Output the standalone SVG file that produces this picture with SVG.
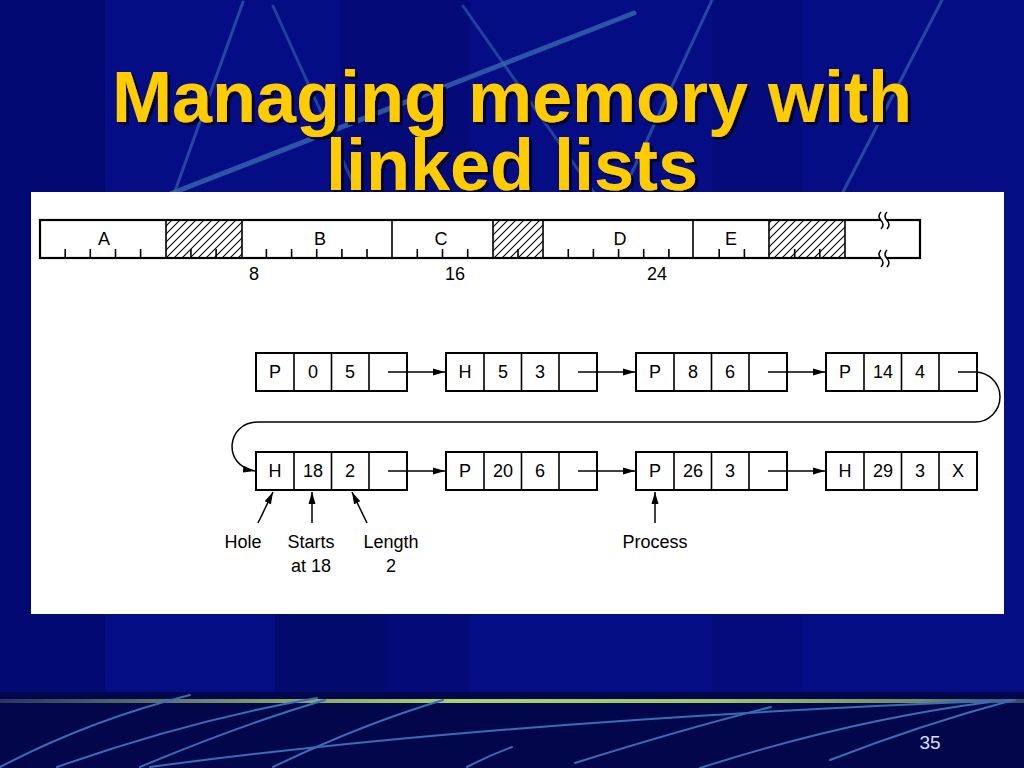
<svg xmlns="http://www.w3.org/2000/svg" width="1024" height="768" viewBox="0 0 1024 768">
  <defs>
    <style>
      .title { font-family: "Liberation Sans", Arial, sans-serif; font-weight: bold; font-size: 72px; text-anchor: middle; fill: #FFCC00; }
      .lbl { font-family: "Liberation Sans", Arial, sans-serif; font-size: 18px; fill: #000; text-anchor: middle; }
      .box { fill: #fff; stroke: #000; stroke-width: 2; }
      .div { stroke: #000; stroke-width: 1.6; fill: none; }
      .conn { stroke: #000; stroke-width: 1.5; fill: none; }
      .deco { stroke: #3A6DB5; fill: none; stroke-linecap: round; }
    </style>
    <filter id="shadow" x="-5%" y="-20%" width="110%" height="140%">
      <feDropShadow dx="3" dy="3" stdDeviation="0.5" flood-color="#000028" flood-opacity="0.9"/>
    </filter>
    <pattern id="hatch" patternUnits="userSpaceOnUse" width="8" height="8">
      <path d="M0,8 L8,0 M-1,1 L1,-1 M7,9 L9,7" stroke="#000" stroke-width="1.1"/>
    </pattern>
    <marker id="arr" viewBox="0 0 12 8" refX="12" refY="4" markerWidth="12" markerHeight="8" markerUnits="userSpaceOnUse" orient="auto">
      <path d="M0,0.5 L12,4 L0,7.5 z" fill="#000"/>
    </marker>
    <linearGradient id="bar" x1="0" y1="0" x2="1" y2="0">
      <stop offset="0" stop-color="#2A3560"/>
      <stop offset="0.25" stop-color="#7E9A6A"/>
      <stop offset="0.45" stop-color="#A8D468"/>
      <stop offset="0.7" stop-color="#9CC868"/>
      <stop offset="0.9" stop-color="#6E8A68"/>
      <stop offset="1" stop-color="#3A4A60"/>
    </linearGradient>
  </defs>

  <!-- background -->
  <g id="background">
    <rect x="0" y="0" width="1024" height="768" fill="#050D84"/>
    <rect x="0" y="0" width="105" height="692" fill="#03096C" opacity="0.7"/>
    <rect x="340" y="0" width="130" height="692" fill="#030A72" opacity="0.6"/>
    <rect x="712" y="0" width="90" height="692" fill="#030A72" opacity="0.5"/>
    <rect x="275" y="614" width="110" height="78" fill="#030A6E"/>
    <rect x="0" y="692" width="1024" height="76" fill="#02074C"/>
    <path class="deco" stroke-width="5" opacity="0.75" d="M170,194 L634,13"/>
    <path class="deco" stroke-width="3" opacity="0.6" d="M243,2 L174,194"/>
    <path class="deco" stroke-width="3" opacity="0.55" d="M273,6 L358,194"/>
    <path class="deco" stroke-width="3" opacity="0.55" d="M463,6 L595,194"/>
    <path class="deco" stroke-width="3" opacity="0.6" d="M712,0 L622,194"/>
    <path class="deco" stroke-width="3" opacity="0.6" d="M942,0 L842,194"/>
    <rect x="0" y="699" width="1024" height="4" fill="url(#bar)"/>
    <path class="deco" stroke-width="2" d="M0,767 Q90,720 190,695"/>
    <path class="deco" stroke-width="2" d="M57,767 Q190,720 317,698"/>
    <path class="deco" stroke-width="2" d="M140,767 Q240,725 325,700"/>
    <path class="deco" stroke-width="2" d="M150,767 Q500,720 1015,700"/>
    <path class="deco" stroke-width="2" d="M273,767 Q360,725 443,700"/>
    <path class="deco" stroke-width="2" d="M467,767 Q490,755 512,747"/>
    <path class="deco" stroke-width="2" d="M575,763 Q680,730 771,707"/>
    <path class="deco" stroke-width="2" d="M830,760 Q920,725 1013,700"/>
    <path class="deco" stroke-width="2" d="M700,768 Q850,720 990,702"/>
  </g>

  <!-- title -->
  <g id="title" filter="url(#shadow)">
    <text class="title" x="512" y="122">Managing memory with</text>
    <text class="title" x="512" y="190">linked lists</text>
  </g>

  <!-- white panel -->
  <rect x="31" y="192" width="973" height="422" fill="#fff"/>

  <!-- memory bar -->
  <g id="memory">
    <rect x="166" y="220" width="76" height="38" fill="url(#hatch)"/>
    <rect x="493" y="220" width="50" height="38" fill="url(#hatch)"/>
    <rect x="769" y="220" width="76" height="38" fill="url(#hatch)"/>
    <path class="div" d="M65.2 249V258 M90.3 249V258 M115.5 249V258 M140.6 249V258 M190.9 249V258 M216.1 249V258 M266.4 249V258 M291.6 249V258 M316.7 249V258 M341.9 249V258 M367 249V258 M417.3 249V258 M442.5 249V258 M467.7 249V258 M518 249V258 M568.3 249V258 M593.4 249V258 M618.6 249V258 M643.7 249V258 M668.9 249V258 M719.2 249V258 M744.4 249V258 M794.7 249V258 M819.8 249V258"/>
    <rect x="40" y="220" width="880" height="38" fill="none" stroke="#000" stroke-width="2.2"/>
    <path class="div" stroke-width="2" d="M166 220V258 M242 220V258 M392 220V258 M493 220V258 M543 220V258 M693 220V258 M769 220V258 M845 220V258"/>
    <rect x="881" y="217" width="6" height="6" fill="#fff"/>
    <rect x="881" y="255" width="6" height="6" fill="#fff"/>
    <path class="conn" d="M881,212 q-4,4.25 0,8.5 t0,8.5 M887,212 q-4,4.25 0,8.5 t0,8.5 M881,250 q-4,4.25 0,8.5 t0,8.5 M887,250 q-4,4.25 0,8.5 t0,8.5"/>
    <text class="lbl" x="104" y="245">A</text>
    <text class="lbl" x="320" y="245">B</text>
    <text class="lbl" x="441" y="245">C</text>
    <text class="lbl" x="620" y="245">D</text>
    <text class="lbl" x="731" y="245">E</text>
    <text class="lbl" x="254" y="280">8</text>
    <text class="lbl" x="455" y="280">16</text>
    <text class="lbl" x="657" y="280">24</text>
  </g>

  <!-- row 1 nodes -->
  <g id="n1">
    <rect class="box" x="256" y="353" width="151" height="38"/>
    <path class="div" d="M294 353V391 M331.5 353V391 M369 353V391"/>
    <text class="lbl" x="275" y="378">P</text><text class="lbl" x="313" y="378">0</text><text class="lbl" x="350" y="378">5</text>
  </g>
  <g id="n2">
    <rect class="box" x="446" y="353" width="151" height="38"/>
    <path class="div" d="M484 353V391 M521.5 353V391 M559 353V391"/>
    <text class="lbl" x="465" y="378">H</text><text class="lbl" x="503" y="378">5</text><text class="lbl" x="540" y="378">3</text>
  </g>
  <g id="n3">
    <rect class="box" x="636" y="353" width="151" height="38"/>
    <path class="div" d="M674 353V391 M711.5 353V391 M749 353V391"/>
    <text class="lbl" x="655" y="378">P</text><text class="lbl" x="693" y="378">8</text><text class="lbl" x="730" y="378">6</text>
  </g>
  <g id="n4">
    <rect class="box" x="826" y="353" width="151" height="38"/>
    <path class="div" d="M864 353V391 M901.5 353V391 M939 353V391"/>
    <text class="lbl" x="845" y="378">P</text><text class="lbl" x="883" y="378">14</text><text class="lbl" x="920" y="378">4</text>
  </g>

  <!-- row 2 nodes -->
  <g id="n5">
    <rect class="box" x="256" y="452" width="151" height="38"/>
    <path class="div" d="M294 452V490 M331.5 452V490 M369 452V490"/>
    <text class="lbl" x="275" y="477">H</text><text class="lbl" x="313" y="477">18</text><text class="lbl" x="350" y="477">2</text>
  </g>
  <g id="n6">
    <rect class="box" x="446" y="452" width="151" height="38"/>
    <path class="div" d="M484 452V490 M521.5 452V490 M559 452V490"/>
    <text class="lbl" x="465" y="477">P</text><text class="lbl" x="503" y="477">20</text><text class="lbl" x="540" y="477">6</text>
  </g>
  <g id="n7">
    <rect class="box" x="636" y="452" width="151" height="38"/>
    <path class="div" d="M674 452V490 M711.5 452V490 M749 452V490"/>
    <text class="lbl" x="655" y="477">P</text><text class="lbl" x="693" y="477">26</text><text class="lbl" x="730" y="477">3</text>
  </g>
  <g id="n8">
    <rect class="box" x="826" y="452" width="151" height="38"/>
    <path class="div" d="M864 452V490 M901.5 452V490 M939 452V490"/>
    <text class="lbl" x="845" y="477">H</text><text class="lbl" x="883" y="477">29</text><text class="lbl" x="920" y="477">3</text><text class="lbl" x="958" y="477">X</text>
  </g>

  <!-- connectors -->
  <g id="connectors">
    <path class="conn" marker-end="url(#arr)" d="M388 372H445"/>
    <path class="conn" marker-end="url(#arr)" d="M578 372H635"/>
    <path class="conn" marker-end="url(#arr)" d="M768 372H825"/>
    <path class="conn" marker-end="url(#arr)" d="M958 372H975A25 25 0 0 1 975 422H258C226 422 222 466 255 471"/>
    <path class="conn" marker-end="url(#arr)" d="M388 471H445"/>
    <path class="conn" marker-end="url(#arr)" d="M578 471H635"/>
    <path class="conn" marker-end="url(#arr)" d="M768 471H825"/>
    <path class="conn" marker-end="url(#arr)" d="M258 523L273 492"/>
    <path class="conn" marker-end="url(#arr)" d="M312 523L312 492"/>
    <path class="conn" marker-end="url(#arr)" d="M367 523L352 492"/>
    <path class="conn" marker-end="url(#arr)" d="M655 523L655 492"/>
  </g>

  <!-- pointer labels -->
  <g id="labels">
    <text class="lbl" x="243" y="548">Hole</text>
    <text class="lbl" x="311" y="548">Starts</text>
    <text class="lbl" x="311" y="572">at 18</text>
    <text class="lbl" x="391" y="548">Length</text>
    <text class="lbl" x="391" y="572">2</text>
    <text class="lbl" x="655" y="548">Process</text>
  </g>

  <text x="930" y="749" font-family="Liberation Sans, Arial, sans-serif" font-size="19" fill="#D8DEF2" text-anchor="middle">35</text>
</svg>
